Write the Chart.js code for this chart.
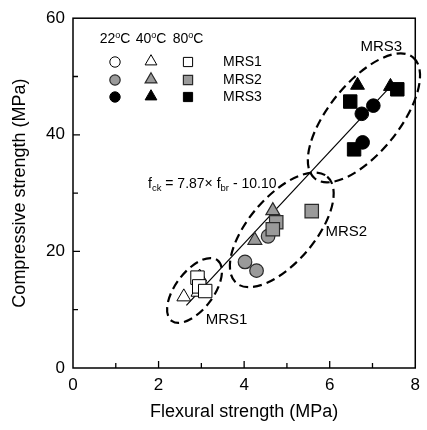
<!DOCTYPE html>
<html><head><meta charset="utf-8">
<script src="https://cdn.jsdelivr.net/npm/chart.js@4.4.1/dist/chart.umd.min.js"></script>
<style>html,body{margin:0;padding:0;background:#fff}#wrap{width:427px;height:430px;position:relative}</style>
</head><body><div id="wrap"><canvas id="c" width="427" height="430"></canvas></div>
<script>
// ---- data ----
const xTicks = [0, 2, 4, 6, 8];
const yTicks = [0, 20, 40, 60];
const xMinorTicks = [1, 3, 5, 7];
const yMinorTicks = [10, 30, 50];
const groups = ['MRS1', 'MRS2', 'MRS3'];
const temps = ['22', '40', '80'];
const xTitle = 'Flexural strength (MPa)';
const yTitle = 'Compressive strength (MPa)';

const mrs1_22 = [{x:2.95, y:14.5}];
const mrs1_40 = [{x:2.59, y:12.2}, {x:2.96, y:15.6}, {x:2.92, y:13.0}];
const mrs1_80 = [{x:2.91, y:15.5}, {x:2.95, y:14.0}, {x:3.09, y:13.2}];
const mrs2_22 = [{x:4.02, y:18.2}, {x:4.29, y:16.7}, {x:4.56, y:22.6}];
const mrs2_40 = [{x:4.67, y:27.0}, {x:4.25, y:21.9}];
const mrs2_80 = [{x:4.75, y:25.0}, {x:4.67, y:23.8}, {x:5.58, y:26.9}];
const mrs3_22 = [{x:7.02, y:45.0}, {x:6.75, y:43.6}, {x:6.77, y:38.7}];
const mrs3_40 = [{x:6.65, y:48.5}, {x:7.42, y:48.3}];
const mrs3_80 = [{x:6.48, y:45.7}, {x:7.58, y:47.8}, {x:6.57, y:37.5}];

const fitSlope = 7.87, fitIntercept = -10.10;
const fitXStart = 2.65, fitXEnd = 7.45;

// ---- annotation geometry (data-space centres, pixel radii) ----
const ellipses = [
  {cx:2.84, cy:13.3, a:38, b:19, ang:-53},
  {cx:4.88, cy:23.7, a:70, b:33, ang:-49.5},
  {cx:6.8, cy:42.9, a:78, b:35, ang:-51}
];
const groupLabels = [
  {text:'MRS1', x:3.1, y:8.2},
  {text:'MRS2', x:5.9, y:23.3},
  {text:'MRS3', x:6.72, y:55.1}
];

const FONT = '"Liberation Sans", Arial, Helvetica, sans-serif';
const styles = {
  MRS1: {bg:'#ffffff', bd:'#000000', bw:1},
  MRS2: {bg:'#9a9a9a', bd:'#2a2a2a', bw:1.2},
  MRS3: {bg:'#000000', bd:'#000000', bw:1}
};
const shapes = {'22':'circle', '40':'triangle', '80':'rect'};
const radii = {circle:6.8, triangle:8, rect:9.5};

const seriesData = {
  MRS1: {'22':mrs1_22, '40':mrs1_40, '80':mrs1_80},
  MRS2: {'22':mrs2_22, '40':mrs2_40, '80':mrs2_80},
  MRS3: {'22':mrs3_22, '40':mrs3_40, '80':mrs3_80}
};

const datasets = [];
let ord = 0;
groups.forEach(g => {
  temps.slice().reverse().forEach(t => {
    const st = styles[g], sh = shapes[t];
    datasets.push({
      type:'scatter', label:g + ' ' + t, data:seriesData[g][t],
      pointStyle:sh, pointRadius:radii[sh], pointHoverRadius:radii[sh],
      backgroundColor:st.bg, borderColor:st.bd, borderWidth:st.bw, order:ord++
    });
  });
});
datasets.push({
  type:'line', label:'fit',
  data:[{x:fitXStart, y:fitSlope*fitXStart+fitIntercept},{x:fitXEnd, y:fitSlope*fitXEnd+fitIntercept}],
  borderColor:'#000', borderWidth:1.2, pointRadius:0, fill:false, order:100
});

function drawMarker(ctx, style, x, y, r, fill, stroke, lw){
  ctx.save(); ctx.beginPath();
  if (style === 'circle') ctx.arc(x, y, r, 0, Math.PI*2);
  else if (style === 'triangle') { ctx.moveTo(x, y-r); ctx.lineTo(x+r*0.866, y+r*0.5); ctx.lineTo(x-r*0.866, y+r*0.5); ctx.closePath(); }
  else { const s = r*Math.SQRT1_2; ctx.rect(x-s, y-s, 2*s, 2*s); }
  ctx.fillStyle = fill; ctx.fill(); ctx.lineWidth = lw; ctx.strokeStyle = stroke; ctx.stroke(); ctx.restore();
}

const decor = {
  id:'decor',
  beforeDatasetsDraw(chart){
    const {ctx, scales:{x, y}} = chart;
    ctx.save();
    ctx.setLineDash([9, 5]); ctx.lineWidth = 2.2; ctx.strokeStyle = '#000';
    ellipses.forEach(e => {
      ctx.beginPath();
      ctx.ellipse(x.getPixelForValue(e.cx), y.getPixelForValue(e.cy), e.a, e.b, e.ang*Math.PI/180, 0, Math.PI*2);
      ctx.stroke();
    });
    ctx.restore();
  },
  afterDraw(chart){
    const {ctx, chartArea:ca, scales:{x, y}} = chart;
    ctx.save();
    // frame
    ctx.strokeStyle = '#000'; ctx.lineWidth = 1.5; ctx.setLineDash([]);
    ctx.strokeRect(ca.left, ca.top, ca.right-ca.left, ca.bottom-ca.top);
    // inward ticks
    ctx.lineWidth = 1.3;
    ctx.beginPath();
    xTicks.slice(1, -1).forEach(v => { const px = x.getPixelForValue(v); ctx.moveTo(px, ca.bottom); ctx.lineTo(px, ca.bottom-7); });
    xMinorTicks.forEach(v => { const px = x.getPixelForValue(v); ctx.moveTo(px, ca.bottom); ctx.lineTo(px, ca.bottom-5); });
    yTicks.slice(1, -1).forEach(v => { const py = y.getPixelForValue(v); ctx.moveTo(ca.left, py); ctx.lineTo(ca.left+7, py); });
    yMinorTicks.forEach(v => { const py = y.getPixelForValue(v); ctx.moveTo(ca.left, py); ctx.lineTo(ca.left+5, py); });
    ctx.stroke();

    // group labels
    ctx.fillStyle = '#000'; ctx.textBaseline = 'middle'; ctx.textAlign = 'left';
    ctx.font = '15px ' + FONT;
    groupLabels.forEach(l => ctx.fillText(l.text, x.getPixelForValue(l.x), y.getPixelForValue(l.y)));

    // legend header
    const colX = [115, 151, 188];
    const rowY = [62, 80, 97];
    ctx.textBaseline = 'alphabetic';
    temps.forEach((t, i) => {
      ctx.font = '14px ' + FONT;
      const w1 = ctx.measureText(t).width;
      ctx.font = '9px ' + FONT;
      const w2 = ctx.measureText('o').width;
      ctx.font = '14px ' + FONT;
      const w3 = ctx.measureText('C').width;
      let sx = colX[i] - (w1+w2+w3)/2;
      const by = 43;
      ctx.fillText(t, sx, by); sx += w1;
      ctx.font = '9px ' + FONT; ctx.fillText('o', sx, by-5); sx += w2;
      ctx.font = '14px ' + FONT; ctx.fillText('C', sx, by);
    });
    // legend rows
    groups.forEach((g, r) => {
      const st = styles[g];
      drawMarker(ctx, 'circle', colX[0], rowY[r], 5.2, st.bg, st.bd, st.bw);
      drawMarker(ctx, 'triangle', colX[1], rowY[r]-0.5, 6.8, st.bg, st.bd, st.bw);
      drawMarker(ctx, 'rect', colX[2], rowY[r], 6.5, st.bg, st.bd, st.bw);
      ctx.font = '14px ' + FONT; ctx.textBaseline = 'middle'; ctx.fillStyle = '#000';
      ctx.fillText(g, 223, rowY[r]);
    });

    // equation
    ctx.textBaseline = 'alphabetic';
    let ex = 148; const ey = 188;
    const seg = (txt, size, dy) => { ctx.font = size + 'px ' + FONT; ctx.fillText(txt, ex, ey+dy); ex += ctx.measureText(txt).width; };
    seg('f', 14, 0); seg('ck', 9.5, 3); seg(' = ' + fitSlope.toFixed(2) + '\u00d7 f', 14, 0); seg('br', 9.5, 3); seg(' - ' + Math.abs(fitIntercept).toFixed(2), 14, 0);
    ctx.restore();
  }
};

new Chart(document.getElementById('c'), {
  data:{datasets},
  options:{
    responsive:false, animation:false, events:[],
    layout:{padding:{top:15, right:8, left:0, bottom:0}},
    plugins:{legend:{display:false}, tooltip:{enabled:false}},
    scales:{
      x:{type:'linear', min:0, max:8,
        afterBuildTicks(s){ s.ticks = xTicks.map(v => ({value:v})); },
        afterFit(s){ s.height = 62; },
        ticks:{font:{size:17, family:FONT}, color:'#000', padding:7},
        grid:{display:false, drawTicks:false}, border:{display:false},
        title:{display:true, text:xTitle, color:'#000', font:{size:18, family:FONT}, padding:{top:0, bottom:7}}
      },
      y:{type:'linear', min:0, max:60,
        afterBuildTicks(s){ s.ticks = yTicks.map(v => ({value:v})); },
        afterFit(s){ s.width = 73; },
        ticks:{font:{size:17, family:FONT}, color:'#000', padding:8},
        grid:{display:false, drawTicks:false}, border:{display:false},
        title:{display:true, text:yTitle, color:'#000', font:{size:18, family:FONT}, padding:{top:9, bottom:0}}
      }
    }
  },
  plugins:[decor]
});
</script>
</body></html>
